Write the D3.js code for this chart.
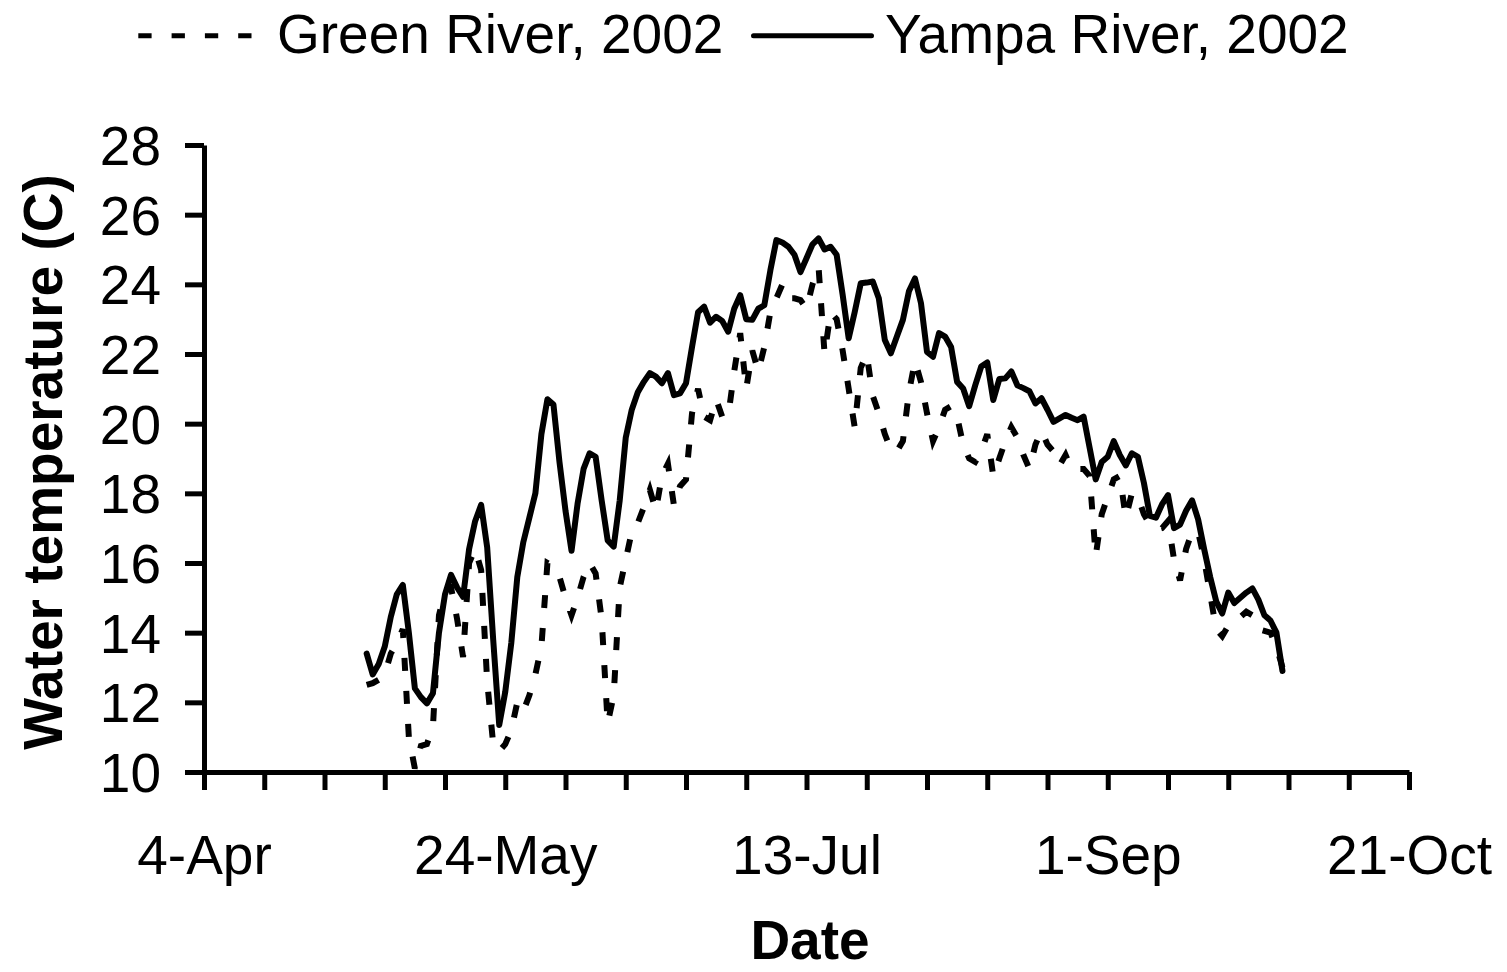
<!DOCTYPE html>
<html>
<head>
<meta charset="utf-8">
<script src="https://cdn.jsdelivr.net/npm/d3@7"></script>
<style>
  html, body { margin: 0; padding: 0; background: #ffffff; }
  svg { display: block; }
  text { font-family: Arial, "Liberation Sans", Helvetica, sans-serif; fill: #000; }
</style>
</head>
<body>
<svg id="chart" width="1507" height="972"></svg>
<script>
// Daily mean water temperature (deg C), 1 May – 30 Sep 2002
const firstDay = "2002-05-01";

const greenRiver = [
  12.5, 12.55, 12.65, 12.8, 13.4, 13.7, 14.1, 11.0, 10.1, 10.75,
  10.8, 11.3, 14.5, 15.2, 15.3, 14.4, 13.3, 16.0, 16.4, 15.8,
  12.6, 10.8, 10.6, 10.8, 11.2, 12.0, 11.75, 12.2, 12.8, 13.6,
  16.0, 15.9, 15.6, 15.0, 14.5, 15.0, 15.6, 16.0, 15.7, 14.4,
  11.4, 12.2, 15.3, 16.1, 16.9, 17.15, 17.6, 18.1, 17.5, 18.5,
  18.85, 17.65, 18.2, 18.4, 20.3, 21.0, 20.2, 20.1, 20.7, 20.2,
  20.2, 21.5, 22.6, 21.0, 22.1, 21.5, 22.2, 23.2, 23.6, 24.0,
  23.6, 23.6, 23.55, 23.3, 24.0, 24.5, 22.0, 23.2, 23.0, 22.1,
  21.0, 19.9, 21.6, 22.0, 20.8, 20.3, 19.7, 19.25, 19.2, 19.5,
  20.9, 21.8, 21.2, 20.3, 19.5, 19.9, 20.4, 20.5, 20.2, 19.4,
  19.0, 18.9, 19.2, 19.7, 18.5, 19.0, 19.5, 19.9, 19.6, 19.1,
  18.7, 19.4, 19.8, 19.4, 19.2, 18.8, 19.1, 18.7, 18.7, 18.7,
  18.5, 16.2, 17.4, 17.9, 18.4, 18.5, 17.3, 18.0, 17.9, 17.4,
  17.1, 16.95, 17.0, 17.2, 16.1, 15.5, 16.4, 16.9, 16.9, 16.1,
  15.1, 14.1, 13.9, 14.2, 14.35, 14.45, 14.6, 14.5, 14.1, 14.05,
  14.0, 13.6, 13.0
];

const yampaRiver = [
  13.4, 12.8, 13.1, 13.6, 14.45, 15.1, 15.37, 14.0, 12.4, 12.15,
  11.97, 12.26, 14.0, 15.1, 15.66, 15.3, 15.03, 16.4, 17.2, 17.67,
  16.45, 13.8, 11.35, 12.3, 13.7, 15.6, 16.6, 17.3, 18.0, 19.7,
  20.7, 20.55, 18.9, 17.5, 16.35, 17.7, 18.7, 19.15, 19.05, 17.8,
  16.65, 16.47, 17.8, 19.6, 20.4, 20.9, 21.2, 21.45, 21.35, 21.16,
  21.45, 20.82, 20.87, 21.16, 22.2, 23.2, 23.36, 22.9, 23.07, 22.95,
  22.64, 23.3, 23.69, 23.0, 22.98, 23.3, 23.4, 24.4, 25.27, 25.2,
  25.08, 24.85, 24.35, 24.75, 25.15, 25.32, 25.0, 25.08, 24.85, 23.7,
  22.45, 23.2, 24.03, 24.05, 24.08, 23.6, 22.4, 22.02, 22.5, 22.98,
  23.8, 24.17, 23.46, 22.06, 21.92, 22.6, 22.5, 22.2, 21.2, 21.01,
  20.5, 21.1, 21.64, 21.76, 20.68, 21.28, 21.3, 21.5, 21.1, 21.02,
  20.93, 20.58, 20.73, 20.4, 20.05, 20.15, 20.25, 20.17, 20.1, 20.2,
  19.3, 18.4, 18.9, 19.05, 19.5, 19.1, 18.8, 19.15, 19.05, 18.3,
  17.35, 17.3, 17.68, 17.95, 17.0, 17.1, 17.5, 17.8, 17.25, 16.4,
  15.6, 14.9, 14.55, 15.15, 14.85, 15.0, 15.15, 15.27, 14.95, 14.5,
  14.35, 14.0, 12.9
];

const seriesNames = ["Green River, 2002", "Yampa River, 2002"];
const yTicks = [10, 12, 14, 16, 18, 20, 22, 24, 26, 28];
const xTickLabels = ["4-Apr", "24-May", "13-Jul", "1-Sep", "21-Oct"];
const axisStart = "2002-04-04";
const axisEnd = "2002-10-21";

const svg = d3.select("#chart");
const FONT = 55;

const parse = d3.utcParse("%Y-%m-%d");
const t0 = parse(firstDay);
const dateOf = i => d3.utcDay.offset(t0, i);

const x = d3.scaleUtc()
  .domain([parse(axisStart), parse(axisEnd)])
  .range([204, 1409]);

const y = d3.scaleLinear()
  .domain([10, 28])
  .range([772, 145]);

// Minor ticks every 10 days, labels every 50 days
const xTickDates = d3.range(0, 201, 10).map(k => d3.utcDay.offset(parse(axisStart), k));

const xAxis = d3.axisBottom(x)
  .tickValues(xTickDates)
  .tickSize(18)
  .tickSizeOuter(0)
  .tickFormat((d, i) => (i % 5 === 0 ? xTickLabels[i / 5] : ""));

const gx = svg.append("g")
  .attr("transform", `translate(0,${y(10)})`)
  .call(xAxis);

const yAxis = d3.axisLeft(y)
  .tickValues(yTicks)
  .tickSize(19)
  .tickSizeOuter(0)
  .tickFormat(d3.format("d"));

const gy = svg.append("g")
  .attr("transform", `translate(${x(parse(axisStart))},0)`)
  .call(yAxis);

[gx, gy].forEach(g => {
  g.select(".domain").attr("stroke", "#000").attr("stroke-width", 5);
  g.selectAll(".tick line").attr("stroke", "#000").attr("stroke-width", 5);
  g.selectAll(".tick text")
    .attr("font-size", FONT)
    .attr("font-family", "Arial, 'Liberation Sans', sans-serif")
    .attr("fill", "#000");
});

gx.selectAll(".tick text").attr("dy", null).attr("y", 102);
gy.selectAll(".tick text").attr("dy", null).attr("x", -43).attr("y", 19.5);

// Data lines
const line = d3.line()
  .x((d, i) => x(dateOf(i)))
  .y(d => y(d))
  .curve(d3.curveLinear);

svg.append("path")
  .datum(greenRiver)
  .attr("fill", "none")
  .attr("stroke", "#000")
  .attr("stroke-width", 6)
  .attr("stroke-dasharray", "13,20")
  .attr("stroke-linejoin", "miter")
  .attr("d", line);

svg.append("path")
  .datum(yampaRiver)
  .attr("fill", "none")
  .attr("stroke", "#000")
  .attr("stroke-width", 6)
  .attr("stroke-linejoin", "round")
  .attr("stroke-linecap", "round")
  .attr("d", line);

// Axis titles
svg.append("text")
  .attr("x", 810)
  .attr("y", 959)
  .attr("text-anchor", "middle")
  .attr("font-size", FONT)
  .attr("font-weight", "bold")
  .text("Date");

svg.append("text")
  .attr("transform", "translate(62,462) rotate(-90)")
  .attr("text-anchor", "middle")
  .attr("font-size", FONT)
  .attr("font-weight", "bold")
  .text("Water temperature (C)");

// Legend
const legend = svg.append("g");
legend.append("line")
  .attr("x1", 138.3).attr("x2", 252)
  .attr("y1", 35.7).attr("y2", 35.7)
  .attr("stroke", "#000")
  .attr("stroke-width", 5)
  .attr("stroke-dasharray", "13.3,20");
legend.append("text")
  .attr("x", 277).attr("y", 52.5)
  .attr("font-size", FONT)
  .text(seriesNames[0]);
legend.append("line")
  .attr("x1", 753.5).attr("x2", 871.5)
  .attr("y1", 35.7).attr("y2", 35.7)
  .attr("stroke", "#000")
  .attr("stroke-width", 5)
  .attr("stroke-linecap", "round");
legend.append("text")
  .attr("x", 885).attr("y", 52.5)
  .attr("font-size", FONT)
  .text(seriesNames[1]);
</script>
</body>
</html>
